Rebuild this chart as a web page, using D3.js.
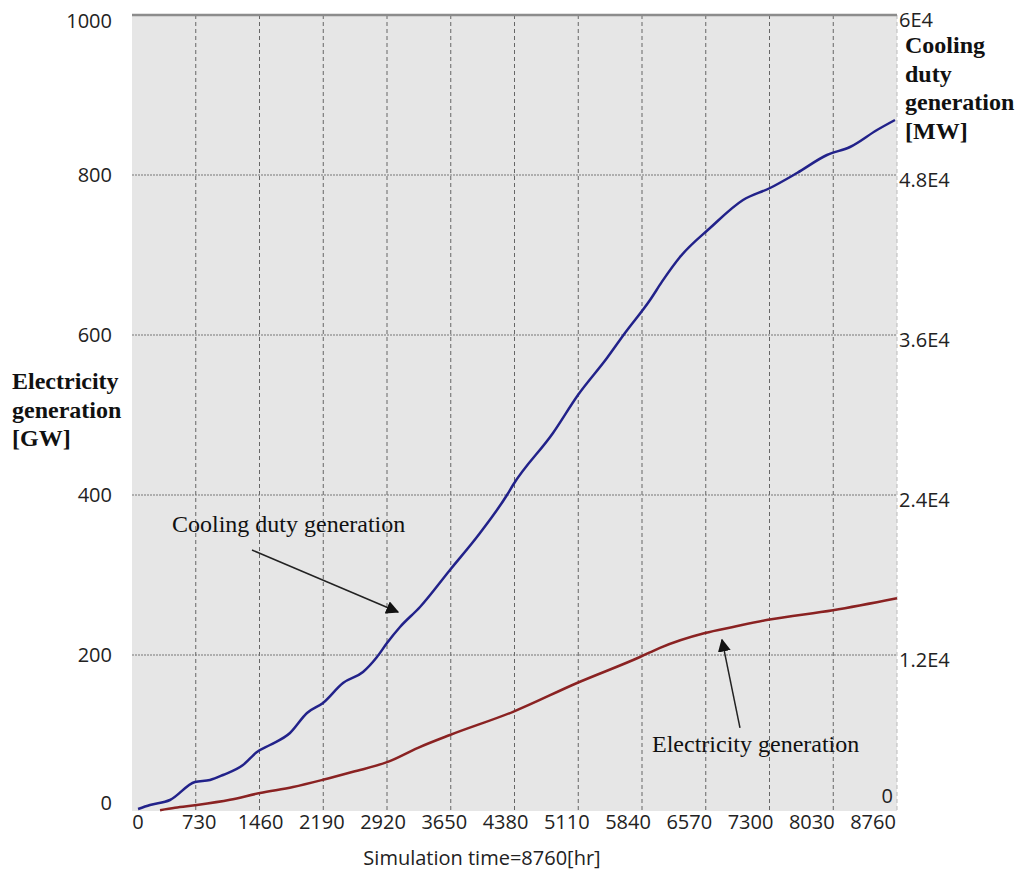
<!DOCTYPE html>
<html>
<head>
<meta charset="utf-8">
<script src="https://cdn.jsdelivr.net/npm/d3@7"></script>
<style>
  body { margin: 0; background: #fff; }
  .tick-label { font-family: "Open Sans", sans-serif; font-size: 20px; fill: #222; }
  .axis-title { font-family: "Liberation Serif", "Times New Roman", serif; font-size: 24px; font-weight: bold; fill: #111; }
  .note { font-family: "Liberation Serif", "Times New Roman", serif; font-size: 24px; fill: #111; }
</style>
</head>
<body>
<div id="chart"></div>
<script>
// simulation time [hr]
const timeTicks = [0, 730, 1460, 2190, 2920, 3650, 4380, 5110, 5840, 6570, 7300, 8030, 8760];
const leftTicks = [0, 200, 400, 600, 800, 1000];
const rightTicks = [0, 12000, 24000, 36000, 48000, 60000];
const rightTickText = ['0', '1.2E4', '2.4E4', '3.6E4', '4.8E4', '6E4'];

// cooling duty generation [MW] (right axis)
const coolingTime = [69, 206, 435, 721, 893, 1042, 1271, 1431, 1580, 1809, 2004, 2187, 2416, 2645,
  2805, 2920, 3069, 3298, 3641, 3985, 4294, 4363, 4821, 5107, 5439, 5645, 5932, 6069, 6275,
  6619, 6997, 7306, 7615, 7958, 8222, 8531, 8737];
const coolingMW = [450, 750, 1125, 2475, 2625, 3000, 3750, 4725, 5250, 6150, 7650, 8400, 9900, 10725,
  11850, 12900, 14100, 15600, 18375, 21150, 24000, 24750, 28650, 31500, 34275, 36150, 38625, 40000, 41850,
  44025, 46125, 47025, 48150, 49500, 50100, 51375, 52125];

// electricity generation [GW] (left axis)
const elecTime = [321, 492, 744, 1122, 1466, 1844, 2187, 2531, 2920, 3275, 3641, 4363, 5096, 5817,
  6046, 6562, 6882, 7283, 8027, 8760];
const elecGW = [6, 9, 12.5, 19, 27.5, 35, 44, 54, 66, 84, 100, 129, 165, 197.5,
  209, 227.5, 235, 244, 256, 271];

const width = 1017;
const height = 871;
const margin = { left: 132, right: 120, top: 15, bottom: 56 };
const plotBottom = 811;

const svg = d3.select('#chart').append('svg')
  .attr('width', width)
  .attr('height', height);

const x = d3.scaleLinear().domain([0, 8760]).range([margin.left, width - margin.right]);
// the tick labels in the original are squeezed a bit inside the grid
const xLabel = d3.scaleLinear().domain([0, 8760]).range([margin.left + 6, width - margin.right - 24]);
const yLeft = d3.scaleLinear().domain([0, 1000]).range([height - margin.bottom, margin.top]);
const yRight = d3.scaleLinear().domain([0, 60000]).range([height - margin.bottom, margin.top]);

// plot background
svg.append('rect')
  .attr('x', x(0))
  .attr('y', yLeft(1000))
  .attr('width', x(8760) - x(0))
  .attr('height', plotBottom - yLeft(1000))
  .attr('fill', '#e6e6e6');

// grid
const grid = svg.append('g').attr('class', 'grid');
grid.selectAll('line.v')
  .data(timeTicks.slice(1))
  .enter().append('line')
  .attr('class', 'v')
  .attr('x1', (d) => x(d)).attr('x2', (d) => x(d))
  .attr('y1', yLeft(1000)).attr('y2', plotBottom)
  .attr('stroke', (d) => (d === 8760 ? '#bbb' : '#666'))
  .attr('stroke-width', 1)
  .attr('stroke-dasharray', '4,3');

grid.selectAll('line.h')
  .data(leftTicks.filter((d) => d > 0 && d < 1000))
  .enter().append('line')
  .attr('class', 'h')
  .attr('x1', x(0)).attr('x2', x(8760))
  .attr('y1', (d) => yLeft(d)).attr('y2', (d) => yLeft(d))
  .attr('stroke', '#777')
  .attr('stroke-width', 1.2)
  .attr('stroke-dasharray', '2,1');

// top border
svg.append('line')
  .attr('x1', x(0)).attr('x2', x(8760))
  .attr('y1', yLeft(1000)).attr('y2', yLeft(1000))
  .attr('stroke', '#8c8c8c')
  .attr('stroke-width', 2.5);

// lines
const coolingData = coolingTime.map((t, i) => ({ t, v: coolingMW[i] }));
const elecData = elecTime.map((t, i) => ({ t, v: elecGW[i] }));

svg.append('path')
  .datum(elecData)
  .attr('fill', 'none')
  .attr('stroke', '#8a2222')
  .attr('stroke-width', 2.5)
  .attr('d', d3.line().curve(d3.curveMonotoneX).x((d) => x(d.t)).y((d) => yLeft(d.v)));

svg.append('path')
  .datum(coolingData)
  .attr('fill', 'none')
  .attr('stroke', '#22228a')
  .attr('stroke-width', 2.5)
  .attr('d', d3.line().curve(d3.curveMonotoneX).x((d) => x(d.t)).y((d) => yRight(d.v)));

// x tick labels
svg.append('g').selectAll('text')
  .data(timeTicks)
  .enter().append('text')
  .attr('class', 'tick-label')
  .attr('x', (d) => xLabel(d))
  .attr('y', plotBottom + 18)
  .attr('text-anchor', 'middle')
  .text((d) => d);

svg.append('text')
  .attr('class', 'tick-label')
  .attr('x', 482)
  .attr('y', 865)
  .attr('text-anchor', 'middle')
  .text('Simulation time=8760[hr]');

// left tick labels
svg.append('g').selectAll('text')
  .data(leftTicks)
  .enter().append('text')
  .attr('class', 'tick-label')
  .attr('x', 112)
  .attr('y', (d) => Math.min(Math.max(yLeft(d), 21), 803))
  .attr('dy', '0.35em')
  .attr('text-anchor', 'end')
  .text((d) => d);

// right tick labels
svg.append('g').selectAll('text')
  .data(rightTicks)
  .enter().append('text')
  .attr('class', 'tick-label')
  .attr('x', (d) => (d === 0 ? x(8760) - 4 : x(8760) + 2))
  .attr('y', (d) => (d === 0 ? 796 : Math.max(yRight(d) + 5, 20)))
  .attr('dy', '0.35em')
  .attr('text-anchor', (d) => (d === 0 ? 'end' : 'start'))
  .text((d, i) => rightTickText[i]);

// axis titles
const leftTitle = svg.append('text').attr('class', 'axis-title');
['Electricity', 'generation', '[GW]'].forEach((s, i) => {
  leftTitle.append('tspan').attr('x', 12).attr('y', 389 + i * 28.5).text(s);
});

const rightTitle = svg.append('text').attr('class', 'axis-title');
['Cooling', 'duty', 'generation', '[MW]'].forEach((s, i) => {
  rightTitle.append('tspan').attr('x', 905).attr('y', 53 + i * 28.5).text(s);
});

// annotations
svg.append('defs').append('marker')
  .attr('id', 'head')
  .attr('viewBox', '0 0 10 10')
  .attr('refX', 9).attr('refY', 5)
  .attr('markerWidth', 13).attr('markerHeight', 13)
  .attr('markerUnits', 'userSpaceOnUse')
  .attr('orient', 'auto')
  .append('path')
  .attr('d', 'M0,0 L10,5 L0,10 Z')
  .attr('fill', '#111');

const notes = [
  { text: 'Cooling duty generation', tx: 458, ty: 21225, from: [1374, 19875], to: [3046, 15225], y: yRight },
  { text: 'Electricity generation', tx: 5955, ty: 79, from: [6962, 109], to: [6756, 219], y: yLeft },
];

notes.forEach((n) => {
  svg.append('text')
    .attr('class', 'note')
    .attr('x', x(n.tx))
    .attr('y', n.y(n.ty))
    .text(n.text);
  svg.append('line')
    .attr('x1', x(n.from[0])).attr('y1', n.y(n.from[1]))
    .attr('x2', x(n.to[0])).attr('y2', n.y(n.to[1]))
    .attr('stroke', '#222')
    .attr('stroke-width', 1.5)
    .attr('marker-end', 'url(#head)');
});
</script>
</body>
</html>
